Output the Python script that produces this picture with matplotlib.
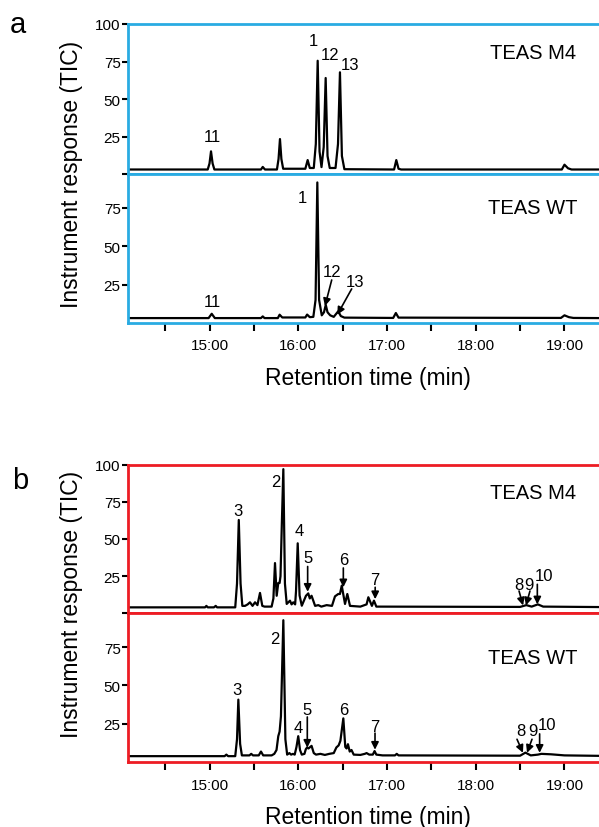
import matplotlib
matplotlib.use("Agg")
import matplotlib.pyplot as plt
import numpy as np

plt.rcParams['font.family'] = ['Liberation Sans', 'DejaVu Sans']

# ---------------- data (retention time in min, response in TIC %) ----------------
# panel a, TEAS M4
a_m4_t = [14.09, 14.98, 15.00, 15.017, 15.035, 15.055, 15.58, 15.60, 15.625,
          15.76, 15.778, 15.794, 15.81, 15.83, 16.08, 16.106, 16.13, 16.175,
          16.198, 16.219, 16.24, 16.262, 16.287, 16.309, 16.33, 16.355, 16.42,
          16.448, 16.470, 16.492, 16.52, 17.08, 17.105, 17.13, 17.16, 18.97,
          19.0, 19.04, 19.08, 19.39]
a_m4_v = [3.0, 3.0, 7.0, 15.1, 7.0, 3.0, 3.0, 4.7, 3.0,
          3.0, 10.0, 23.3, 10.0, 3.5, 3.5, 9.3, 4.0, 4.0,
          20.0, 75.5, 15.0, 4.6, 18.0, 64.0, 12.0, 4.0, 4.0,
          20.0, 67.8, 12.0, 3.2, 3.0, 9.3, 3.5, 3.0, 3.0,
          6.2, 3.8, 3.0, 3.0]

# panel a, TEAS WT
a_wt_t = [14.09, 14.99, 15.025, 15.06, 15.58, 15.60, 15.62, 15.77, 15.79, 15.82,
          16.08, 16.10, 16.13, 16.17, 16.195, 16.215, 16.235, 16.265, 16.29,
          16.31, 16.33, 16.36, 16.40, 16.45, 16.48, 16.52, 17.07, 17.10, 17.13,
          18.96, 19.0, 19.05, 19.10, 19.39]
a_wt_v = [3.2, 3.2, 6.0, 3.2, 3.2, 4.3, 3.2, 3.2, 5.4, 3.6,
          3.6, 5.5, 3.8, 4.0, 15.0, 91.5, 15.0, 5.0, 7.0,
          11.8, 7.0, 5.0, 4.0, 7.6, 4.5, 3.5, 3.3, 6.5, 3.5,
          3.3, 5.0, 3.8, 3.3, 3.2]

# panel b, TEAS M4
b_m4_t = [14.09, 14.95, 14.965, 14.98, 15.05, 15.07, 15.085, 15.29, 15.31,
          15.33, 15.35, 15.37, 15.40, 15.43, 15.456, 15.485, 15.513, 15.54,
          15.569, 15.595, 15.62, 15.70, 15.72, 15.738, 15.757, 15.775, 15.79,
          15.80, 15.815, 15.832, 15.85, 15.87, 15.907, 15.925, 15.944, 15.965,
          15.975, 15.994, 16.015, 16.04, 16.087, 16.113, 16.13, 16.15, 16.19,
          16.226, 16.26, 16.32, 16.38, 16.414, 16.451, 16.47, 16.49, 16.527,
          16.553, 16.583, 16.70, 16.77, 16.79, 16.83, 16.853, 16.88, 18.50,
          18.57, 18.63, 18.70, 18.76, 19.39]
b_m4_v = [4.0, 4.0, 5.0, 4.0, 4.0, 5.0, 4.0, 4.0, 20.0,
          62.8, 20.0, 5.0, 5.0, 6.0, 7.4, 5.0, 7.4, 5.5,
          13.7, 5.0, 4.5, 4.5, 10.0, 33.8, 11.8, 20.4, 20.4,
          25.0, 60.0, 97.0, 20.0, 6.3, 8.5, 6.0, 7.4, 6.0,
          15.0, 47.1, 12.0, 5.1, 11.8, 13.4, 10.0, 11.8, 5.0,
          5.5, 4.5, 5.5, 5.0, 11.4, 13.0, 13.0, 18.6, 6.3,
          13.0, 5.0, 4.5, 6.0, 10.8, 5.0, 8.5, 4.5, 4.3,
          5.5, 4.5, 6.0, 4.5, 4.2]

# panel b, TEAS WT
b_wt_t = [14.09, 15.17, 15.19, 15.21, 15.29, 15.31, 15.325, 15.345, 15.365, 15.45,
          15.47, 15.49, 15.555, 15.58, 15.605, 15.70, 15.73, 15.755, 15.775, 15.79,
          15.805, 15.832, 15.855, 15.875, 15.90, 15.92, 15.94, 15.96, 15.98, 16.0,
          16.02, 16.04, 16.07, 16.085, 16.10, 16.115, 16.15, 16.175, 16.20, 16.25,
          16.30, 16.35, 16.40, 16.43, 16.455, 16.475, 16.508, 16.53, 16.545, 16.56,
          16.58, 16.60, 16.625, 16.70, 16.75, 16.77, 16.80, 16.84, 16.86, 16.88,
          16.95, 17.09, 17.11, 17.13, 18.50, 18.56, 18.62, 18.70, 18.74, 18.85,
          19.0, 19.39]
b_wt_v = [4.0, 4.0, 5.0, 4.0, 4.0, 15.0, 40.8, 12.0, 4.5, 4.5,
          5.5, 4.5, 4.5, 7.0, 4.5, 4.5, 5.5, 8.0, 17.0, 20.0,
          30.0, 92.5, 15.0, 5.0, 6.0, 5.0, 5.5, 5.0, 10.0, 17.0,
          8.0, 5.0, 5.5, 8.5, 9.7, 9.0, 10.7, 6.0, 5.0, 5.5,
          4.8, 5.5, 6.0, 9.7, 11.0, 14.0, 28.6, 10.0, 9.0, 11.8,
          7.0, 8.0, 5.0, 4.8, 5.5, 6.0, 5.0, 5.0, 7.3, 5.0,
          4.5, 4.5, 5.5, 4.5, 4.3, 6.3, 4.5, 5.0, 5.5, 5.2,
          4.5, 4.2]

# peak labels: (text, time, value)
a_m4_labels = [('11', 15.03, 24.7), ('1', 16.166, 88.7), ('12', 16.358, 80.0), ('13', 16.583, 72.7)]
a_wt_labels = [('11', 15.03, 14.2), ('1', 16.046, 81.8), ('12', 16.38, 33.6), ('13', 16.639, 26.9)]
# arrows: (time from, value from, time to, value to)
a_wt_arrows = [(16.377, 28.0, 16.301, 11.0), (16.602, 22.2, 16.440, 5.4)]

b_m4_labels = [('3', 15.321, 69.5), ('2', 15.749, 88.8), ('4', 16.008, 55.6), ('5', 16.106, 37.7),
               ('6', 16.508, 36.5), ('7', 16.867, 23.0), ('8', 18.49, 19.7), ('9', 18.603, 19.7),
               ('10', 18.772, 25.3)]
b_m4_arrows = [(16.106, 31.5, 16.106, 14.5), (16.508, 30.5, 16.508, 17.5), (16.867, 17.5, 16.867, 9.5),
               (18.488, 15.0, 18.533, 5.3), (18.611, 15.0, 18.566, 5.3), (18.694, 19.5, 18.694, 6.0)]

b_wt_labels = [('3', 15.306, 47.7), ('2', 15.738, 80.6), ('4', 16.0, 22.6), ('5', 16.102, 34.4),
               ('6', 16.508, 34.4), ('7', 16.865, 23.6), ('8', 18.507, 20.4), ('9', 18.642, 20.4),
               ('10', 18.80, 24.7)]
b_wt_arrows = [(16.102, 29.5, 16.102, 9.5), (16.865, 19.0, 16.865, 8.2),
               (18.465, 15.0, 18.532, 6.2), (18.634, 15.0, 18.578, 6.2), (18.72, 18.5, 18.72, 6.2)]

xtick_major = [15, 16, 17, 18, 19]
xtick_labels = ['15:00', '16:00', '17:00', '18:00', '19:00']
xtick_minor = [14.5, 15.5, 16.5, 17.5, 18.5]

BLUE = '#29abe2'
RED = '#ed1c24'
XLIM = (14.085, 19.389)

fig = plt.figure(figsize=(5.99, 8.28), dpi=100)

L = 128.3 / 599
W = 1 - L


def make_ax(top_px, bot_px, ylim, yticks, ylabels, color, bottom=False):
    ax = fig.add_axes([L, 1 - bot_px / 828, W, (bot_px - top_px) / 828])
    ax.set_xlim(*XLIM)
    ax.set_ylim(*ylim)
    for s in ['left', 'top', 'bottom']:
        ax.spines[s].set_color(color)
        ax.spines[s].set_linewidth(2)
    ax.spines['right'].set_visible(False)
    ax.set_yticks(yticks)
    ax.set_yticklabels(ylabels)
    ax.tick_params(axis='y', direction='out', length=4.5, width=1.5, color='k',
                   labelsize=11, pad=1)
    if bottom:
        ax.set_xticks(xtick_major)
        ax.set_xticklabels(xtick_labels)
        ax.set_xticks(xtick_minor, minor=True)
        ax.tick_params(axis='x', which='both', direction='out', length=5.5, width=1.5,
                       color='k', labelsize=11, pad=5.5)
    else:
        ax.set_xticks([])
    return ax


def draw(ax, t, v, labels, arrows, name, ytxt):
    ax.plot(t, v, color='k', lw=1.6, solid_joinstyle='round')
    for txt, x, y in labels:
        ax.text(x, y, txt, ha='center', va='center', fontsize=12)
    for x0, y0, x1, y1 in arrows:
        ax.annotate('', xy=(x1, y1), xytext=(x0, y0),
                    arrowprops=dict(arrowstyle='-|>', color='k', lw=1.2,
                                    mutation_scale=11, shrinkA=0, shrinkB=0))
    ax.text(0.86, ytxt, name, transform=ax.transAxes, ha='center', va='center', fontsize=14.5)


# panel a
ax1 = make_ax(25, 175, (0, 100), [0, 25, 50, 75, 100], ['', '25', '50', '75', '100'], BLUE)
draw(ax1, a_m4_t, a_m4_v, a_m4_labels, [], 'TEAS M4', 0.813)
ax2 = make_ax(175, 324, (0, 97), [25, 50, 75], ['25', '50', '75'], BLUE, bottom=True)
draw(ax2, a_wt_t, a_wt_v, a_wt_labels, a_wt_arrows, 'TEAS WT', 0.776)

# panel b
ax3 = make_ax(465.7, 614.3, (0, 100), [0, 25, 50, 75, 100], ['', '25', '50', '75', '100'], RED)
draw(ax3, b_m4_t, b_m4_v, b_m4_labels, b_m4_arrows, 'TEAS M4', 0.814)
ax4 = make_ax(614.3, 763.3, (0, 97), [25, 50, 75], ['25', '50', '75'], RED, bottom=True)
draw(ax4, b_wt_t, b_wt_v, b_wt_labels, b_wt_arrows, 'TEAS WT', 0.706)

# shared labels
for yc in [174, 604]:
    fig.text(72 / 599, 1 - yc / 828, 'Instrument response (TIC)', rotation=90,
             ha='center', va='center', fontsize=16.5)
for yc in [378, 818]:
    fig.text(367.5 / 599, 1 - yc / 828, 'Retention time (min)', ha='center', va='center',
             fontsize=16.5)
fig.text(18.3 / 599, 1 - 33 / 828, 'a', ha='center', va='baseline', fontsize=21)
fig.text(20.5 / 599, 1 - 489.3 / 828, 'b', ha='center', va='baseline', fontsize=21)

fig.savefig('out.png', dpi=100)
